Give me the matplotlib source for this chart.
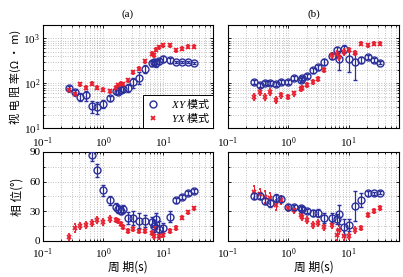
import numpy as np
import matplotlib
matplotlib.use('Agg')
import matplotlib.pyplot as plt
from matplotlib.lines import Line2D
from matplotlib.ticker import MultipleLocator, LogLocator, NullFormatter

plt.rcParams['font.family'] = ['Liberation Serif', 'Noto Sans CJK SC']
plt.rcParams['font.size'] = 8
plt.rcParams['mathtext.fontset'] = 'custom'
plt.rcParams['mathtext.rm'] = 'Liberation Serif'
plt.rcParams['mathtext.it'] = 'Liberation Serif:italic'
plt.rcParams['xtick.direction'] = 'in'
plt.rcParams['ytick.direction'] = 'in'
plt.rcParams['xtick.top'] = True
plt.rcParams['ytick.right'] = True

# ---- site (a) ----
period_a = [0.27, 0.34, 0.42, 0.52, 0.65, 0.80, 1.0, 1.3, 1.65, 1.8, 2.0, 2.15, 2.6,
            3.2, 4.0, 5.1, 6.5, 7.1, 7.7, 8.7, 10.1, 13.1, 16.3, 20.5, 26.4, 32.5]
rho_xy_a = [80, 64, 50, 54, 31, 30, 35, 46, 68, 64, 72, 76, 80,
            107, 134, 213, 280, 300, 290, 310, 355, 325, 305, 305, 300, 290]
rho_xy_a_err = [0.1, 0.12, 0.2, 0.25, 0.3, 0.3, 0.2, 0.15, 0.15, 0.12, 0.15, 0.15, 0.2,
                0.25, 0.3, 0.2, 0.15, 0.15, 0.2, 0.15, 0.15, 0.15, 0.05, 0.05, 0.05, 0.05]
rho_yx_a = [70, 57, 95, 80, 98, 80, 72, 67, 80, 90, 98, 95, 117,
            178, 213, 308, 455, 420, 560, 640, 700, 700, 540, 590, 650, 650]
rho_yx_a_err = [0.08] * len(period_a)
phs_xy_a = [np.nan, np.nan, np.nan, np.nan, 86.6, 71.3, 51, 40.8, 34.7, 32.3, 30.6, 32.3, 23.1,
            23.1, 20.4, 19.7, 18.7, 15.3, 22, 11.9, 12.9, 24.5, 40.8, 44.8, 48.2, 50]
phs_xy_a_err = [0, 0, 0, 0, 6, 7, 6, 5, 4, 4, 4, 4, 6,
                7, 8, 6, 5, 6, 6, 8, 5, 6, 3, 2, 2, 2]
phs_yx_a = [3.4, 13, 15.3, 16.3, 17.7, 21.1, 18.7, 22, 21.1, 20.4, 17, 13.6, 9.5,
            11.9, 10.2, 10.2, 7.5, 5.1, 13, 5.1, 6.1, 10.2, 13, 23.1, 28.9, 33]
phs_yx_a_err = [3, 4, 3, 3, 3, 3, 3, 3, 2, 2, 2, 2, 2,
                2, 2, 2, 2, 3, 3, 3, 2, 2, 2, 1.5, 1.5, 1.5]

# ---- site (b) ----
period_b = [0.27, 0.34, 0.41, 0.50, 0.62, 0.75, 0.97, 1.26, 1.59, 1.7, 2.07, 2.58,
            3.13, 3.9, 5.2, 6.3, 6.9, 8.2, 10, 12.9, 16.2, 21, 26.5, 32.8]
rho_xy_b = [107, 90, 101, 101, 98, 107, 107, 134, 121, 134, 143, 195,
            230, 297, 400, 540, 355, 590, 355, 297, 336, 384, 336, 289]
rho_xy_b_err = [0.1, 0.1, 0.1, 0.1, 0.1, 0.1, 0.1, 0.1, 0.1, 0.1, 0.1, 0.12,
                0.12, 0.15, 0.15, 0.2, 0.45, 0.2, 0.5, 0.6, 0.15, 0.1, 0.1, 0.08]
rho_yx_b = [50, 64, 50, 64, 43, 54, 50, 59, 76, 80, 90, 107,
            123, 195, 420, 455, 385, 500, 560, 480, 760, 700, 760, 760]
rho_yx_b_err = [0.15, 0.15, 0.15, 0.15, 0.15, 0.12, 0.12, 0.1, 0.1, 0.1, 0.1, 0.1,
                0.1, 0.1, 0.15, 0.15, 0.15, 0.15, 0.12, 0.12, 0.08, 0.08, 0.08, 0.08]
phs_xy_b = [45.5, 45.5, 40.1, 37.8, 42.9, 42.2, 34.4, 34.4, 32.8, 31.8, 30, 28.3,
            27.7, 22.6, 22.6, 21.6, 26.7, 14.2, 15.9, 35.1, 41.2, 47.9, 47.9, 48.9]
phs_xy_b_err = [3, 3, 3, 4, 4, 3, 3, 2, 2, 2, 2, 3,
                4, 5, 5, 5, 10, 8, 6, 15, 7, 3, 2, 2]
phs_yx_b = [49.5, 47.2, 44.5, 42.9, 36.1, 41.2, 32.8, 31, 26, 23.7, 20.9, 15.9,
            18.2, 14.2, 15.9, 5.8, 10.8, 4.8, 4.8, 10.8, 12.5, 26, 30, 33.4]
phs_yx_b_err = [6, 5, 6, 6, 5, 4, 3, 3, 3, 3, 3, 3,
                3, 3, 3, 5, 4, 4, 3, 3, 2, 2, 2, 2]

blue = '#2b2f9b'
red = '#e8202f'
cn = ['Noto Sans CJK SC', 'DejaVu Sans']

fig = plt.figure(figsize=(4.03, 2.77), dpi=100)
W, H = 403.0, 277.0
ax_ra = fig.add_axes([43/W, 1-128/H, 170/W, 103/H])
ax_rb = fig.add_axes([228/W, 1-128/H, 171/W, 103/H])
ax_pa = fig.add_axes([43/W, 1-240.7/H, 170/W, 88.7/H])
ax_pb = fig.add_axes([228/W, 1-240.7/H, 171/W, 88.7/H])


def plot_xy(ax, x, y, e, rel=False):
    y = np.array(y, dtype=float)
    e = np.array(e, dtype=float)
    if rel:
        e = e * y
    return ax.errorbar(x, y, yerr=e, fmt='o', color=blue, mfc='none', ms=5,
                       mew=1.0, elinewidth=0.9, capsize=1.5, capthick=0.9, zorder=3)


def plot_yx(ax, x, y, e, rel=False):
    y = np.array(y, dtype=float)
    e = np.array(e, dtype=float)
    if rel:
        e = e * y
    return ax.errorbar(x, y, yerr=e, fmt='x', color=red, ms=3.5,
                       mew=1.3, elinewidth=0.8, capsize=1.0, capthick=0.8, zorder=3)


plot_xy(ax_ra, period_a, rho_xy_a, rho_xy_a_err, rel=True)
plot_yx(ax_ra, period_a, rho_yx_a, rho_yx_a_err, rel=True)
plot_xy(ax_rb, period_b, rho_xy_b, rho_xy_b_err, rel=True)
plot_yx(ax_rb, period_b, rho_yx_b, rho_yx_b_err, rel=True)
plot_yx(ax_pa, period_a, phs_yx_a, phs_yx_a_err)
plot_xy(ax_pa, period_a, phs_xy_a, phs_xy_a_err)
plot_yx(ax_pb, period_b, phs_yx_b, phs_yx_b_err)
plot_xy(ax_pb, period_b, phs_xy_b, phs_xy_b_err)

for ax in [ax_ra, ax_rb, ax_pa, ax_pb]:
    ax.set_xscale('log')
    ax.set_xlim(0.1, 68)
    ax.xaxis.set_major_locator(LogLocator(base=10, numticks=5))
    ax.xaxis.set_minor_locator(LogLocator(base=10, subs=np.arange(2, 10), numticks=20))
    ax.xaxis.set_minor_formatter(NullFormatter())
    ax.grid(True, which='both', ls=(0, (1, 2.5)), color='0.55', lw=0.5)
    ax.tick_params(which='both', length=2.5, width=0.6, labelsize=8)
    ax.tick_params(axis='x', pad=4)
    ax.tick_params(axis='y', pad=2)
    ax.tick_params(which='minor', length=1.5)
    for s in ax.spines.values():
        s.set_linewidth(0.8)

for ax in [ax_ra, ax_rb]:
    ax.set_yscale('log')
    ax.set_ylim(10, 2000)
    ax.yaxis.set_major_locator(LogLocator(base=10, numticks=5))
    ax.yaxis.set_minor_locator(LogLocator(base=10, subs=np.arange(2, 10), numticks=20))
    ax.yaxis.set_minor_formatter(NullFormatter())
    ax.tick_params(axis='x', pad=5)

for ax in [ax_pa, ax_pb]:
    ax.set_ylim(0, 90)
    ax.yaxis.set_major_locator(MultipleLocator(30))
    ax.yaxis.set_minor_locator(MultipleLocator(15))

ax_rb.set_yticklabels([])
ax_pb.set_yticklabels([])

ax_ra.set_title('(a)', fontsize=8, pad=6)
ax_rb.set_title('(b)', fontsize=8, pad=6)
ax_ra.set_ylabel('视 电 阻 率(Ω · m)', family=cn, fontsize=8, labelpad=2)
ax_pa.set_ylabel('相 位(°)', family=cn, fontsize=8.5, labelpad=4)
ax_pa.set_xlabel('周 期(s)', family=cn, fontsize=8.5, labelpad=0)
ax_pb.set_xlabel('周 期(s)', family=cn, fontsize=8.5, labelpad=0)

h1 = Line2D([], [], ls='none', marker='o', color=blue, mfc='none', ms=5, mew=1.0)
h2 = Line2D([], [], ls='none', marker='x', color=red, ms=3.5, mew=1.3)
leg = ax_ra.legend([h1, h2], [r'$\mathit{XY}$ 模式', r'$\mathit{YX}$ 模式'],
                   loc='lower right', borderaxespad=0, fancybox=False,
                   framealpha=1, edgecolor='black', handlelength=1.2,
                   handletextpad=1.0, borderpad=0.25, labelspacing=0.1,
                   prop={'family': 'Noto Sans CJK SC', 'size': 8})
leg.get_frame().set_linewidth(0.7)

fig.savefig('out.png', dpi=100)
